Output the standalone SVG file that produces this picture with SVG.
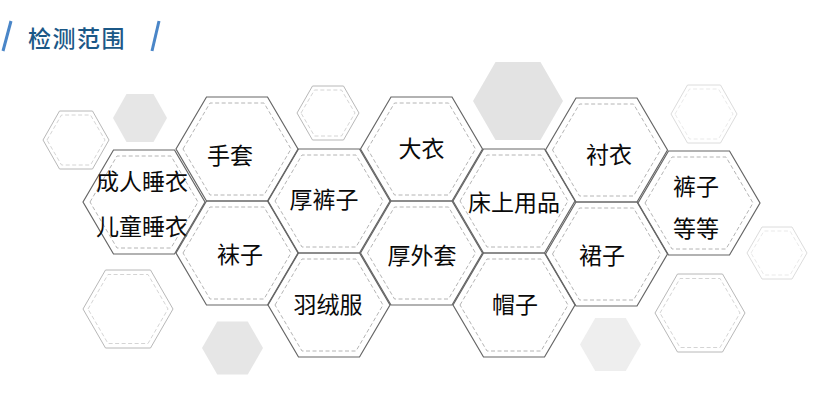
<svg xmlns="http://www.w3.org/2000/svg" xmlns:xlink="http://www.w3.org/1999/xlink" width="825" height="401" viewBox="0 0 825 401">
<style>
.o{fill:none;stroke:#666;stroke-width:1.2}
.i{fill:none;stroke:#b4b4b4;stroke-width:1;stroke-dasharray:4 2.5}
.lbl{font-family:"Noto Sans CJK SC","Noto Sans",sans-serif;font-size:23px;fill:#0a0a0a;text-anchor:middle}
.do{fill:none;stroke:#b8b8b8;stroke-width:1}
.dl{fill:none;stroke:#dcdcdc;stroke-width:1}
.di{fill:none;stroke:#cfcfcf;stroke-width:0.9;stroke-dasharray:4 2.5}
.dil{fill:none;stroke:#e6e6e6;stroke-width:0.9;stroke-dasharray:4 2.5}
</style>
<defs>
<polygon id="hexO" points="-61,0 -30.5,-52 30.5,-52 61,0 30.5,52 -30.5,52"/>
<polygon id="hexI" points="-54,0 -27,-46 27,-46 54,0 27,46 -27,46"/>
</defs>
<rect width="825" height="401" fill="#fff"/>
<g id="title">
<line x1="11" y1="21" x2="3" y2="51" stroke="#4a86c8" stroke-width="3"/>
<line x1="159" y1="21" x2="152" y2="51" stroke="#4a86c8" stroke-width="3"/>
<text x="28" y="47" font-family="Noto Sans CJK SC, sans-serif" font-size="23" font-weight="500" fill="#1b5887" letter-spacing="1.5">检测范围</text>
</g>
<g id="decor">
<polygon class="do" points="43,140 59.5,111 92.5,111 109,140 92.5,169 59.5,169"/>
<polygon class="di" points="47,140 61.5,115 90.5,115 105,140 90.5,165 61.5,165"/>
<polygon fill="#e6e6e6" points="113,118 126.5,94 153.5,94 167,118 153.5,142 126.5,142"/>
<polygon class="do" points="297,113 312.5,86 343.5,86 359,113 343.5,140 312.5,140"/>
<polygon class="di" points="301,113 314.5,90 341.5,90 355,113 341.5,136 314.5,136"/>
<polygon fill="#e3e3e3" points="473,101 495.5,62 540.5,62 563,101 540.5,140 495.5,140"/>
<polygon class="dl" points="671,114 687.5,85 720.5,85 737,114 720.5,143 687.5,143"/>
<polygon class="dil" points="675,114 689.5,89 718.5,89 733,114 718.5,139 689.5,139"/>
<polygon class="dl" points="747,253 762,227 792,227 807,253 792,279 762,279"/>
<polygon class="dil" points="751,253 764,231 790,231 803,253 790,275 764,275"/>
<polygon class="do" points="655,313 677.5,274 722.5,274 745,313 722.5,352 677.5,352"/>
<polygon class="di" points="660,313 680,278.5 720,278.5 740,313 720,347.5 680,347.5"/>
<polygon class="do" points="83,309 105.5,270 150.5,270 173,309 150.5,348 105.5,348"/>
<polygon class="di" points="88,309 108,274.5 148,274.5 168,309 148,343.5 108,343.5"/>
<polygon fill="#e6e6e6" points="202,348 217.25,321.5 247.75,321.5 263,348 247.75,374.5 217.25,374.5"/>
<polygon fill="#eeeeee" points="580,344.5 595.25,318 625.75,318 641,344.5 625.75,371 595.25,371"/>
</g>
<g id="node-chengren">
<use href="#hexO" class="o" x="144" y="202"/><use href="#hexI" class="i" x="144" y="202"/>
<text class="lbl" x="142" y="190">成人睡衣</text>
<text class="lbl" x="142" y="235">儿童睡衣</text>
</g>
<g id="node-shoutao">
<use href="#hexO" class="o" x="237" y="149"/><use href="#hexI" class="i" x="237" y="149"/>
<text class="lbl" x="230" y="164">手套</text>
</g>
<g id="node-wazi">
<use href="#hexO" class="o" x="237" y="253"/><use href="#hexI" class="i" x="237" y="253"/>
<text class="lbl" x="240" y="263">袜子</text>
</g>
<g id="node-houkuzi">
<use href="#hexO" class="o" x="329" y="201"/><use href="#hexI" class="i" x="329" y="201"/>
<text class="lbl" x="324" y="208">厚裤子</text>
</g>
<g id="node-yurongfu">
<use href="#hexO" class="o" x="329" y="305"/><use href="#hexI" class="i" x="329" y="305"/>
<text class="lbl" x="328" y="313">羽绒服</text>
</g>
<g id="node-dayi">
<use href="#hexO" class="o" x="421.5" y="149"/><use href="#hexI" class="i" x="421.5" y="149"/>
<text class="lbl" x="421.5" y="157">大衣</text>
</g>
<g id="node-houwaitao">
<use href="#hexO" class="o" x="421.5" y="253"/><use href="#hexI" class="i" x="421.5" y="253"/>
<text class="lbl" x="422" y="264">厚外套</text>
</g>
<g id="node-chuangshang">
<use href="#hexO" class="o" x="514" y="201"/><use href="#hexI" class="i" x="514" y="201"/>
<text class="lbl" x="514" y="211">床上用品</text>
</g>
<g id="node-maozi">
<use href="#hexO" class="o" x="514" y="305"/><use href="#hexI" class="i" x="514" y="305"/>
<text class="lbl" x="515" y="313">帽子</text>
</g>
<g id="node-chenyi">
<use href="#hexO" class="o" x="606.5" y="150"/><use href="#hexI" class="i" x="606.5" y="150"/>
<text class="lbl" x="609" y="163">衬衣</text>
</g>
<g id="node-qunzi">
<use href="#hexO" class="o" x="606.5" y="254"/><use href="#hexI" class="i" x="606.5" y="254"/>
<text class="lbl" x="602" y="264">裙子</text>
</g>
<g id="node-kuzi">
<use href="#hexO" class="o" x="699" y="203"/><use href="#hexI" class="i" x="699" y="203"/>
<text class="lbl" x="696" y="195">裤子</text>
<text class="lbl" x="696" y="237">等等</text>
</g>
<g id="connectors"></g>
</svg>
